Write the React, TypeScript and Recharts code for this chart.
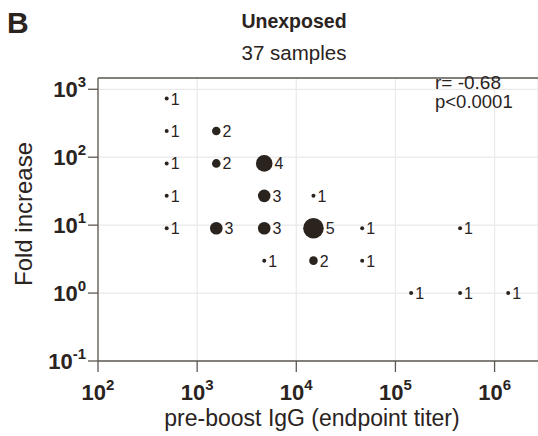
import React from "react";
import {
  ScatterChart,
  Scatter,
  XAxis,
  YAxis,
  CartesianGrid,
  ReferenceLine,
} from "recharts";

// pre-boost IgG titer, fold increase and number of samples at each position
const pointTiter = [
  493, 493, 493, 493, 493,
  1560, 1560, 1560,
  4750, 4750, 4750, 4750,
  14900, 14900, 14900,
  46200, 46200,
  144000,
  449000, 449000,
  1371000,
];
const pointFold = [
  729, 243, 81, 27, 9,
  243, 81, 9,
  81, 27, 9, 3,
  27, 9, 3,
  9, 3,
  1,
  9, 1,
  1,
];
const sampleCount = [
  1, 1, 1, 1, 1,
  2, 2, 3,
  4, 3, 3, 1,
  1, 5, 2,
  1, 1,
  1,
  1, 1,
  1,
];

const xTicks = [1e2, 1e3, 1e4, 1e5, 1e6];
const yTicks = [1e-1, 1e0, 1e1, 1e2, 1e3];
const X_MAX = Math.pow(10, 6.438);
const Y_MAX = Math.pow(10, 3.166);

const INK = "#2a231e";
const AXIS = "#5e5853";
const FONT = "'Liberation Sans', Arial, sans-serif";

const data = pointTiter.map((titer, i) => ({
  titer,
  fold: pointFold[i],
  n: sampleCount[i],
}));

const YTick = (props: any) => {
  const { x, y, payload } = props;
  const exp = Math.round(Math.log10(payload.value));
  return (
    <text x={x} y={y + 8} textAnchor="end" fill={INK} fontFamily={FONT} fontWeight="bold" fontSize={22}>
      <tspan>10</tspan>
      <tspan dy={-10} fontSize={15}>{exp}</tspan>
    </text>
  );
};

const XTick = (props: any) => {
  const { x, y, payload } = props;
  const exp = Math.round(Math.log10(payload.value));
  return (
    <text x={x} y={y + 28} textAnchor="middle" fill={INK} fontFamily={FONT} fontWeight="bold" fontSize={22}>
      <tspan>10</tspan>
      <tspan dy={-10} fontSize={15}>{exp}</tspan>
    </text>
  );
};

// dot whose radius grows with the sample count, count written to its right
const CountDot = (props: any) => {
  const { cx, cy, payload } = props;
  const r = payload.n === 1 ? 2 : payload.n * 2 + 0.3;
  return (
    <g>
      <circle cx={cx} cy={cy} r={r} fill={INK} />
      <text x={cx + r + 2} y={cy + 6} fill={INK} fontFamily={FONT} fontSize={16}>
        {payload.n}
      </text>
    </g>
  );
};

export default function App() {
  return (
    <div
      style={{
        position: "fixed",
        left: 0,
        top: 0,
        width: 538,
        height: 436,
        overflow: "hidden",
        fontFamily: FONT,
        background: "#fff",
      }}
    >
      <ScatterChart
        width={538}
        height={436}
        margin={{ top: 78, right: 0, bottom: 0, left: 0 }}
      >
        <CartesianGrid stroke="#e9e9e9" strokeWidth={1.2} />
        <XAxis
          dataKey="titer"
          type="number"
          scale="log"
          domain={[100, X_MAX]}
          allowDataOverflow
          ticks={xTicks}
          height={75}
          tickSize={11}
          tickMargin={0}
          stroke={AXIS}
          strokeWidth={1.3}
          tick={<XTick />}
        />
        <YAxis
          dataKey="fold"
          type="number"
          scale="log"
          domain={[0.1, Y_MAX]}
          allowDataOverflow
          ticks={yTicks}
          width={98}
          tickSize={10}
          tickMargin={2}
          stroke={AXIS}
          strokeWidth={1.3}
          tick={<YTick />}
        />
        <ReferenceLine y={Y_MAX} stroke={AXIS} strokeWidth={1.3} />
        <Scatter data={data} shape={<CountDot />} isAnimationActive={false} />
      </ScatterChart>
      <svg
        width={538}
        height={436}
        style={{ position: "absolute", left: 0, top: 0, pointerEvents: "none" }}
      >
        <text x={7} y={33} fill={INK} fontFamily={FONT} fontWeight="bold" fontSize={30}>B</text>
        <text x={294} y={28} textAnchor="middle" fill={INK} fontFamily={FONT} fontWeight="bold" fontSize={19.5}>Unexposed</text>
        <text x={294} y={60} textAnchor="middle" fill={INK} fontFamily={FONT} fontSize={20.5}>37 samples</text>
        <text x={435} y={89} fill={INK} fontFamily={FONT} fontSize={19}>r= -0.68</text>
        <text x={435} y={108} fill={INK} fontFamily={FONT} fontSize={18.5}>p&lt;0.0001</text>
        <text
          x={32}
          y={214}
          transform="rotate(-90 32 214)"
          textAnchor="middle"
          fill={INK}
          fontFamily={FONT}
          fontSize={24}
        >
          Fold increase
        </text>
        <text x={312} y={426} textAnchor="middle" fill={INK} fontFamily={FONT} fontSize={23}>
          pre-boost IgG (endpoint titer)
        </text>
      </svg>
    </div>
  );
}
